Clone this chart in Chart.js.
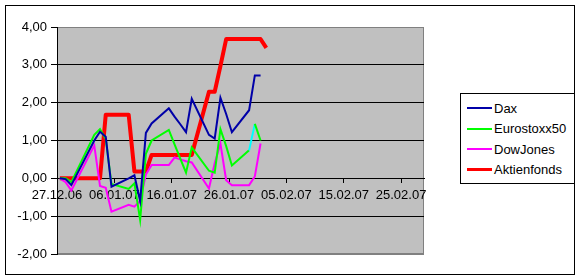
<!DOCTYPE html>
<html><head><meta charset="utf-8">
<script src="https://cdn.jsdelivr.net/npm/chart.js@4.4.0/dist/chart.umd.min.js"></script>
<style>
html,body{margin:0;padding:0;background:#fff;}
#wrap{position:relative;width:580px;height:280px;overflow:hidden;font-family:"Liberation Sans",Arial,sans-serif;}
canvas{position:absolute;left:0;top:0;}
#frame{position:absolute;left:5px;top:5px;width:570px;height:270px;box-sizing:border-box;border:1px solid #000;pointer-events:none;}
#legend{position:absolute;left:460px;top:93px;width:115px;height:91px;box-sizing:border-box;border:1px solid #000;background:#fff;padding-top:4px;}
.row{height:20.5px;display:flex;align-items:center;font-size:13px;color:#000;white-space:nowrap;}
.sw{margin-left:6px;width:25px;margin-right:2px;}
</style></head><body>
<div id="wrap"><canvas id="c" width="580" height="280" style="width:580px;height:280px"></canvas><div id="frame"></div><div id="legend"></div></div>
<script>
// trading dates (dd.mm.yy)
const dates = ['27.12.06','28.12.06','29.12.06','02.01.07','03.01.07','04.01.07','05.01.07',
  '08.01.07','09.01.07','10.01.07','11.01.07','12.01.07','15.01.07','16.01.07','17.01.07',
  '18.01.07','19.01.07','22.01.07','23.01.07','24.01.07','25.01.07','26.01.07','29.01.07',
  '30.01.07','31.01.07','01.02.07'];
const dax        = [0, -0.02, -0.18, 1.0, 1.23, 1.1, -0.22, 0.0, 0.08, -0.6, 1.2, 1.45, 1.85, 1.63, 1.43, 1.22, 2.1, 1.15, 1.05, 2.13, 1.7, 1.22, 1.8, 2.72, 2.72, null];
const eurostoxx  = [0, 0.0, -0.1, 1.15, 1.3, 1.05, -0.15, -0.28, -0.13, -1.1, 0.65, 1.0, 1.28, 0.9, 0.52, 0.15, 0.82, 0.2, 0.15, 1.3, 0.85, 0.34, 0.74, 1.44, 1.0, null];
const dowjones   = [0, -0.1, -0.32, 0.87, -0.2, -0.25, -0.88, -0.7, -0.75, -0.6, 0.1, 0.35, 0.35, 0.55, 0.5, 0.45, 0.42, -0.27, 0.4, 0.92, -0.05, -0.18, -0.18, 0.05, 0.92, null];
const aktienfonds= [0, 0, 0, 0, 0, 1.68, 1.68, 1.68, 0.18, 0.18, 0.18, 0.62, 0.62, 0.62, 0.62, 0.62, 0.62, 2.29, 2.29, 2.97, 3.68, 3.68, 3.68, 3.68, 3.68, 3.45];
const seriesNames = ['Dax','Eurostoxx50','DowJones','Aktienfonds'];
const xTickLabels = ['27.12.06','06.01.07','16.01.07','26.01.07','05.02.07','15.02.07','25.02.07'];
const yTickValues = [-2,-1,0,1,2,3,4];

function parseDate(s){const [d,m,y]=s.split('.').map(Number);return Date.UTC(2000+y,m-1,d);}
const origin = parseDate(dates[0]);
// each point sits in the middle of its day slot on the date axis
const xs = dates.map(s => (parseDate(s)-origin)/86400000 + 0.5);
const pts = arr => arr.map((v,i)=>({x:xs[i], y:v}));

const FONT = {family:'"Liberation Sans", Arial, sans-serif', size:13};
const bgPlugin = {
  id:'bg',
  beforeDraw(chart){
    const {ctx, chartArea:a} = chart;
    ctx.save();
    ctx.fillStyle='#C0C0C0';
    ctx.fillRect(a.left,a.top,a.right-a.left,a.bottom-a.top);
    ctx.strokeStyle='#808080'; ctx.lineWidth=1;
    ctx.strokeRect(a.left+0.5,a.top+0.5,a.right-a.left-1,a.bottom-a.top-1);
    ctx.restore();
  }
};

const chart = new Chart(document.getElementById('c'), {
  type:'line',
  data:{datasets:[
    {label:seriesNames[0], data:pts(dax), borderColor:'#0000A8', borderWidth:2},
    {label:seriesNames[1], data:pts(eurostoxx), borderColor:'#00FF00', borderWidth:2,
      segment:{borderColor: c => c.p0DataIndex===22 ? '#00FFFF' : undefined}},
    {label:seriesNames[2], data:pts(dowjones), borderColor:'#FF00FF', borderWidth:2},
    {label:seriesNames[3], data:pts(aktienfonds), borderColor:'#FF0000', borderWidth:4, borderJoinStyle:'round'}
  ]},
  options:{
    responsive:false, animation:false, devicePixelRatio:1,
    layout:{padding:{left:0,right:156,top:27,bottom:26}},
    elements:{point:{radius:0}, line:{tension:0, fill:false}},
    datasets:{line:{spanGaps:true}},
    plugins:{legend:{display:false}, tooltip:{enabled:false}},
    scales:{
      x:{type:'linear', position:{y:0}, min:0, max:64,
        afterBuildTicks(s){ s.ticks = s.ticks.filter(t => t.value % 10 === 0 && t.value <= 60); },
        grid:{drawOnChartArea:false, drawTicks:true, tickLength:4, tickColor:'#000'},
        border:{display:true, color:'#000', width:1},
        ticks:{stepSize:10, autoSkip:false, maxRotation:0, minRotation:0, padding:5, color:'#000', font:FONT,
          callback: v => xTickLabels[Math.round(v/10)]}
      },
      y:{min:-2, max:4,
        afterBuildTicks(s){ s.ticks = yTickValues.map(v=>({value:v})); },
        afterFit(s){ s.width = 57; },
        grid:{color: c => (c.tick && (c.tick.value===4 || c.tick.value===-2)) ? '#808080' : '#000',
          tickColor:'#000', tickLength:6, drawTicks:true},
        border:{display:true, color:'#000', width:1},
        ticks:{padding:4, color:'#000', font:FONT, callback: v => v.toFixed(2).replace('.',',')}
      }
    }
  },
  plugins:[bgPlugin]
});

// legend built from the chart's datasets
const leg = document.getElementById('legend');
chart.data.datasets.forEach(ds=>{
  const row=document.createElement('div'); row.className='row';
  const sw=document.createElement('div'); sw.className='sw';
  sw.style.borderTop = (ds.borderWidth>2?3:2)+'px solid '+ds.borderColor;
  const t=document.createElement('span'); t.textContent=ds.label;
  row.appendChild(sw); row.appendChild(t); leg.appendChild(row);
});
</script>
</body></html>
